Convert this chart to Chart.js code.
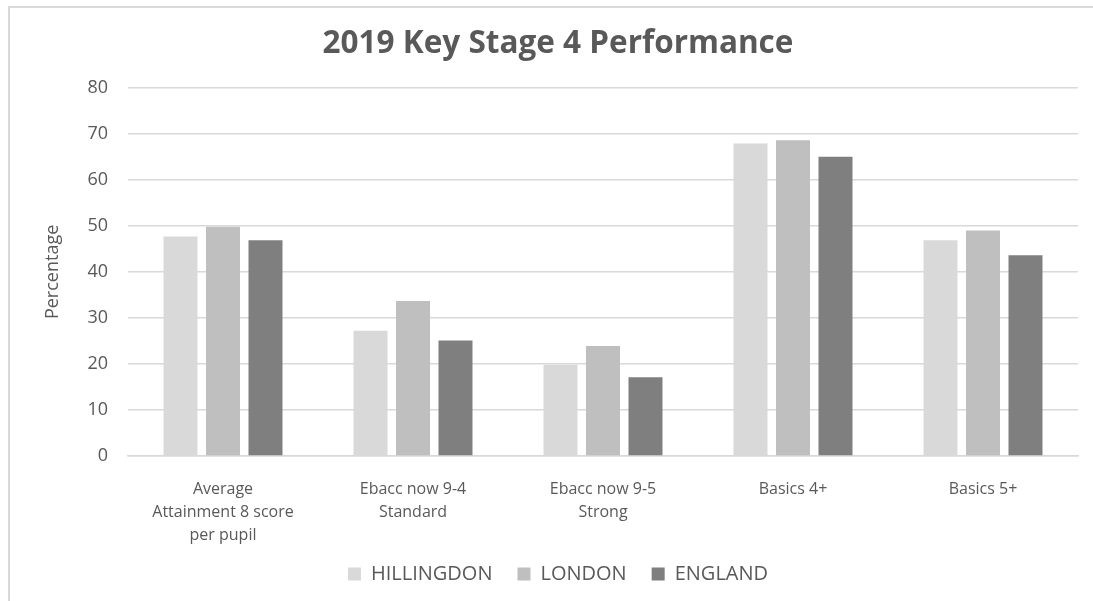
<!DOCTYPE html>
<html>
<head>
<meta charset="utf-8">
<script src="https://cdn.jsdelivr.net/npm/chart.js@4/dist/chart.umd.min.js"></script>
<style>
    body { margin: 0; background: #ffffff; }
    #bingkai {
        position: absolute; left: 8px; top: 6px; width: 1085px; height: 595px;
        border-left: 2px solid #d9d9d9; border-top: 2px solid #d9d9d9;
    }
    #wadah { position: absolute; left: 0; top: 0; width: 1093px; height: 601px; }
</style>
</head>
<body>
<div id="bingkai"></div>
<div id="wadah"><canvas id="grafikKS4"></canvas></div>
<script>
// =================
// DATA
// =================
let kategori = [
    ["Average", "Attainment 8 score", "per pupil"],
    ["Ebacc now 9-4", "Standard"],
    ["Ebacc now 9-5", "Strong"],
    "Basics 4+",
    "Basics 5+"
];
let nilaiHillingdon = [47.7, 27.2, 19.8, 67.9, 46.9];
let nilaiLondon = [49.8, 33.7, 23.9, 68.6, 49.0];
let nilaiEngland = [46.9, 25.1, 17.1, 65.0, 43.6];
let tickSumbuY = [0, 10, 20, 30, 40, 50, 60, 70, 80];

let abu = "#595959";
let hurufLabel = "'Open Sans', 'DejaVu Sans', sans-serif";

// =================
// LEGENDA RAPAT
// =================
// padding legenda dipakai untuk jarak antar item, tapi ruang vertikalnya
// terlalu besar -> kotaknya dipendekkan & digambar sedikit ke atas
let pluginLegenda = {
    id: "legendaRapat",
    beforeLayout(chart) {
        let lg = chart.legend;
        if (!lg || lg._rapat) return;
        lg._rapat = true;
        let fitAsli = lg.fit;
        lg.fit = function () {
            fitAsli.call(this);
            this.height -= 24;
        };
        let drawAsli = lg.draw;
        lg.draw = function () {
            let topAsli = this.top;
            this.top = topAsli - 22;
            drawAsli.apply(this, arguments);
            this.top = topAsli;
        };
    }
};

// =================
// GRAFIK BATANG
// =================
let ctx = document.getElementById("grafikKS4").getContext("2d");
let chartKS4 = new Chart(ctx, {
    type: "bar",
    data: {
        labels: kategori,
        datasets: [
            { label: "HILLINGDON", data: nilaiHillingdon, backgroundColor: "#d9d9d9" },
            { label: "LONDON", data: nilaiLondon, backgroundColor: "#bfbfbf" },
            { label: "ENGLAND", data: nilaiEngland, backgroundColor: "#7f7f7f" }
        ]
    },
    plugins: [pluginLegenda],
    options: {
        responsive: true,
        maintainAspectRatio: false,
        animation: false,
        // kiri 38 supaya judul & legenda agak ke kanan
        layout: { padding: { top: 0, left: 38, right: 15, bottom: 9 } },
        datasets: { bar: { categoryPercentage: 0.671, barPercentage: 0.8 } },
        plugins: {
            title: {
                display: true,
                text: "2019 Key Stage 4 Performance",
                color: abu,
                font: { family: "'Open Sans', sans-serif", size: 31.5, weight: "bold" },
                padding: { top: 25, bottom: 25 }
            },
            legend: {
                position: "bottom",
                labels: {
                    color: abu,
                    boxWidth: 13,
                    boxHeight: 13,
                    padding: 25,
                    font: { family: hurufLabel, size: 20 }
                }
            },
            tooltip: { enabled: false }
        },
        scales: {
            x: {
                grid: { display: false },
                border: { display: true, color: "#d9d9d9", width: 1.5 },
                ticks: {
                    color: abu,
                    maxRotation: 0,
                    autoSkip: false,
                    padding: 14,
                    font: { family: hurufLabel, size: 16, lineHeight: "23px" }
                }
            },
            y: {
                min: 0,
                max: 80,
                afterFit: function (s) { s.width = 90; },
                afterBuildTicks: function (s) { s.ticks = tickSumbuY.map(v => ({ value: v })); },
                grid: { color: "#d9d9d9", lineWidth: 1.5, drawTicks: false },
                border: { display: false },
                ticks: {
                    color: abu,
                    padding: 20,
                    font: { family: hurufLabel, size: 18 }
                },
                title: {
                    display: true,
                    text: "Percentage",
                    color: abu,
                    padding: { top: 4, bottom: 0 },
                    font: { family: hurufLabel, size: 18 }
                }
            }
        }
    }
});
</script>
</body>
</html>
